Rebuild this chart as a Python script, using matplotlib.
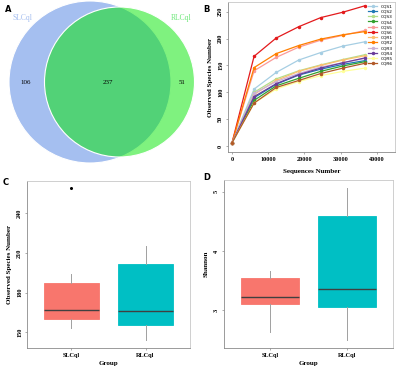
import numpy as np
import matplotlib.pyplot as plt
from matplotlib.patches import Circle

# Venn counts
venn_groups = ['SLCql', 'RLCql']
venn_counts = [106, 237, 51]  # only SLCql, shared, only RLCql

# rarefaction curves
seq_depth = [0, 6100, 12200, 18400, 24500, 30600, 36700]
samples = ['CQS1', 'CQS2', 'CQS3', 'CQS4', 'CQS5', 'CQS6',
           'CQR1', 'CQR2', 'CQR3', 'CQR4', 'CQR5', 'CQR6']
curves = {
    'CQS1': [6, 106, 137, 160, 174, 186, 194],
    'CQS2': [6, 90, 115, 132, 143, 152, 159],
    'CQS3': [6, 100, 125, 140, 151, 161, 170],
    'CQS4': [6, 85, 112, 126, 139, 149, 157],
    'CQS5': [6, 140, 165, 184, 197, 206, 215],
    'CQS6': [6, 167, 201, 222, 239, 249, 261],
    'CQR1': [6, 96, 122, 139, 150, 160, 168],
    'CQR2': [6, 146, 172, 187, 199, 207, 213],
    'CQR3': [6, 98, 120, 135, 147, 155, 163],
    'CQR4': [6, 92, 116, 133, 145, 155, 164],
    'CQR5': [6, 80, 106, 120, 131, 139, 145],
    'CQR6': [6, 80, 109, 122, 135, 145, 154],
}
curve_colors = ['#a6cee3', '#1f78b4', '#b2df8a', '#33a02c', '#fb9a99', '#e31a1c',
                '#fdbf6f', '#ff7f00', '#cab2d6', '#6a3d9a', '#ffff99', '#b15928']

# box plot summaries: whislo, q1, med, q3, whishi, outliers
groups = ['SLCql', 'RLCql']
box_colors = ['#F8766D', '#00BFC4']
obs_stats = [
    (153.3, 159.6, 166.7, 187.3, 193.7, [259.3]),
    (143.7, 155.8, 166.1, 201.5, 215.4, []),
]
shannon_stats = [
    (2.63, 3.11, 3.22, 3.55, 3.66, []),
    (2.49, 3.05, 3.35, 4.59, 5.07, []),
]

serif = 'Liberation Serif'
W, H = 400, 370
fig = plt.figure(figsize=(4, 3.7), dpi=100)

def px_axes(left, top, right, bottom):
    return fig.add_axes([left / W, 1 - bottom / H, (right - left) / W, (bottom - top) / H])

# ---- A: Venn ----
axA = px_axes(0, 0, 200, 170)
axA.set_xlim(0, 200)
axA.set_ylim(170, 0)
axA.axis('off')
axA.add_patch(Circle((90, 82), 81, facecolor='#a5bff0', edgecolor='white', lw=0.8))
axA.add_patch(Circle((119.5, 82), 75, facecolor='#00e600', alpha=0.5, edgecolor='none'))
axA.add_patch(Circle((119.5, 82), 75, facecolor='none', edgecolor='white', lw=0.8))
axA.text(26, 83, str(venn_counts[0]), ha='center', va='center', fontsize=5, family=serif)
axA.text(108, 83, str(venn_counts[1]), ha='center', va='center', fontsize=5, family=serif)
axA.text(182, 83, str(venn_counts[2]), ha='center', va='center', fontsize=5, family=serif)
axA.text(22, 18, venn_groups[0], ha='center', va='center', fontsize=5.5, family=serif, color='#a5bff0')
axA.text(181, 18, venn_groups[1], ha='center', va='center', fontsize=5.5, family=serif, color='#6ee87a')

# ---- B: rarefaction ----
axB = px_axes(228, 2, 395, 152)
for name, col in zip(samples, curve_colors):
    axB.plot(seq_depth, curves[name], color=col, lw=0.9, marker='o', ms=1.5, label=name)
axB.set_xlim(-1100, 45000)
axB.set_ylim(-11, 268)
axB.set_xticks([0, 10000, 20000, 30000, 40000])
axB.set_yticks([0, 50, 100, 150, 200, 250])
axB.set_xlabel('Sequences Number', fontsize=5, family=serif, fontweight='bold', labelpad=5)
axB.set_ylabel('Observed Species Number', fontsize=5, family=serif, fontweight='bold', labelpad=4)
axB.legend(loc='upper right', frameon=False, fontsize=3.2, handlelength=2, labelspacing=0.25,
           borderaxespad=0.1, bbox_to_anchor=(1.0, 1.0))

# ---- C, D: box plots ----
def boxpanel(ax, stats, yticks, ylim, ylabel):
    bxp = []
    for (lo, q1, med, q3, hi, fl), g in zip(stats, groups):
        bxp.append({'whislo': lo, 'q1': q1, 'med': med, 'q3': q3, 'whishi': hi, 'fliers': fl, 'label': g})
    b = ax.bxp(bxp, positions=[1, 2], widths=0.75, patch_artist=True, showcaps=False,
               boxprops=dict(lw=0.6),
               medianprops=dict(color='#404040', lw=1.0),
               whiskerprops=dict(color='#a0a0a0', lw=0.7),
               flierprops=dict(marker='o', ms=1.2, markerfacecolor='black', markeredgecolor='black'))
    for patch, c in zip(b['boxes'], box_colors):
        patch.set_facecolor(c)
        patch.set_edgecolor(c)
    ax.set_xlim(0.4, 2.6)
    ax.set_ylim(*ylim)
    ax.set_yticks(yticks)
    ax.set_xlabel('Group', fontsize=5, family=serif, fontweight='bold', labelpad=2)
    ax.set_ylabel(ylabel, fontsize=5, family=serif, fontweight='bold', labelpad=4)

axC = px_axes(27, 181, 190, 348)
boxpanel(axC, obs_stats, [150, 180, 210, 240], (138, 264.5), 'Observed Species Number')
axD = px_axes(224, 180, 393, 348)
boxpanel(axD, shannon_stats, [3, 4, 5], (2.36, 5.2), 'Shannon')

for ax in (axB, axC, axD):
    for side in ax.spines:
        ax.spines[side].set_color('#c8c8c8')
        ax.spines[side].set_linewidth(0.6)
    ax.spines['left'].set_color('#8a8a8a')
    ax.spines['bottom'].set_color('#8a8a8a')
    ax.tick_params(length=1.5, width=0.5, color='#8a8a8a', pad=2, labelsize=4.5)
    for lab in ax.get_xticklabels():
        lab.set_family(serif)
        lab.set_fontweight('bold')
    for lab in ax.get_yticklabels():
        lab.set_family(serif)
        lab.set_fontweight('bold')
        lab.set_rotation(90)
        lab.set_va('center')

fig.text(5 / W, 1 - 9 / H, 'A', fontsize=6, fontweight='bold', va='center', ha='left')
fig.text(203 / W, 1 - 9 / H, 'B', fontsize=6, fontweight='bold', va='center', ha='left')
fig.text(3 / W, 1 - 182 / H, 'C', fontsize=6, fontweight='bold', va='center', ha='left')
fig.text(203 / W, 1 - 178 / H, 'D', fontsize=6, fontweight='bold', va='center', ha='left')

fig.savefig('out.png', dpi=100)
